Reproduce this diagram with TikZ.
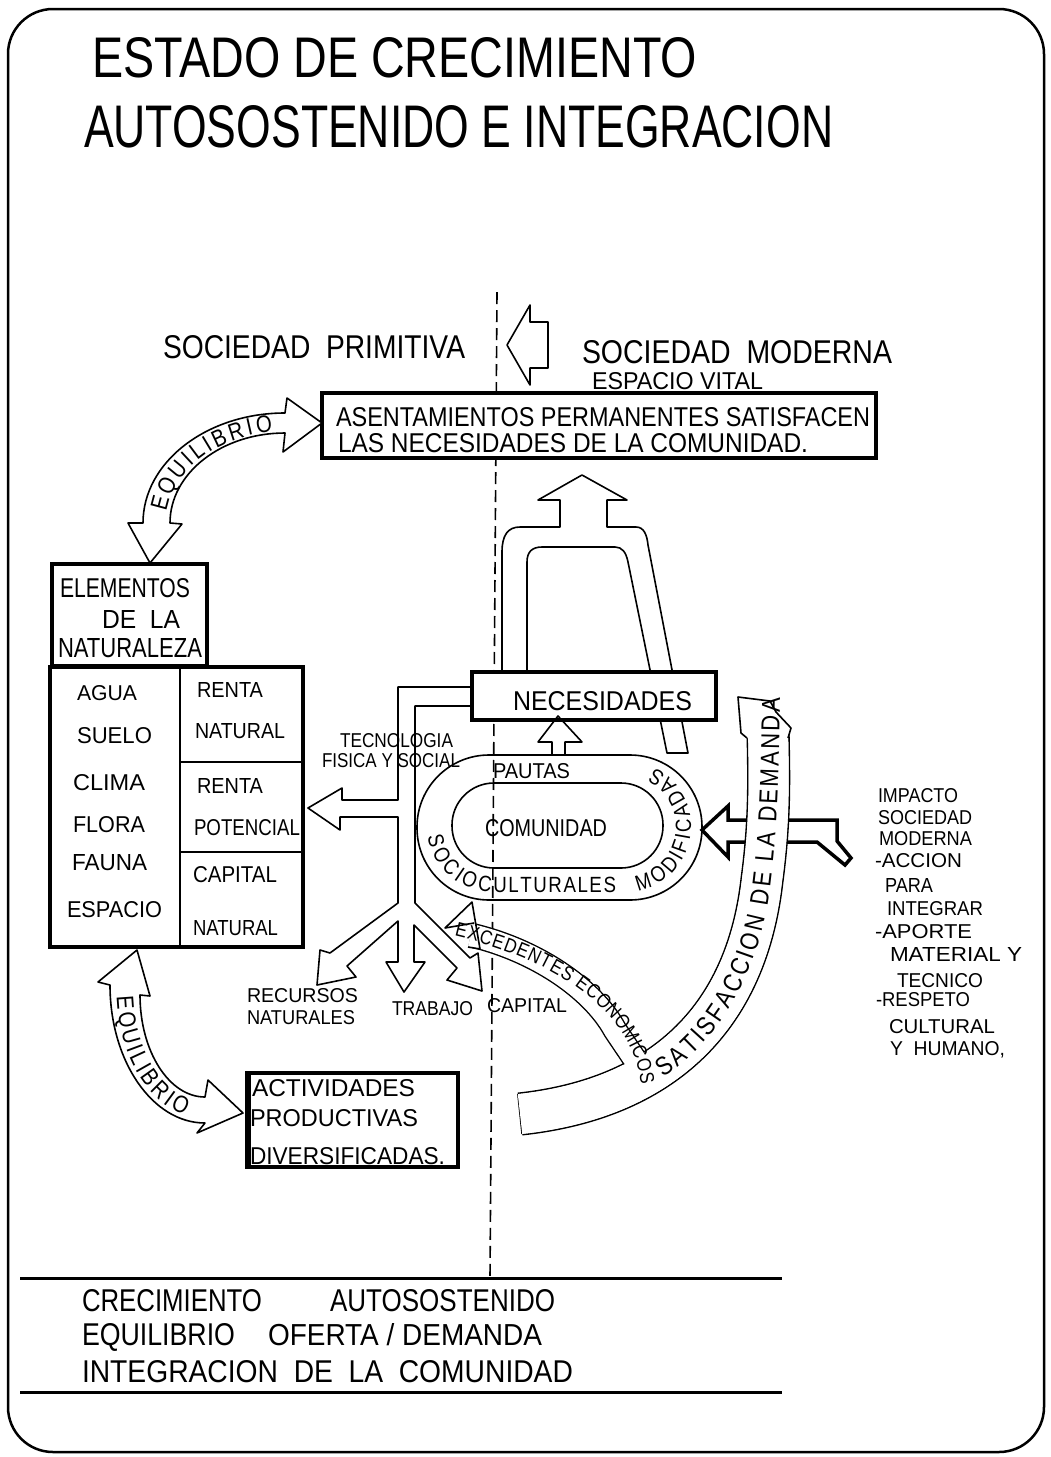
\documentclass[tikz,border=0pt]{standalone}
\usepackage{fontspec}
\usepackage{graphicx}
\newfontfamily\lett{Liberation Sans}
\newfontfamily\lettn{Liberation Sans}[FakeStretch=0.85]
\usetikzlibrary{decorations.text}
\newcommand\Lb[6]{\node[lbl] (#1) at (#2,#3) {\resizebox{#4pt}{#5pt}{\lett #6}};}
\newcommand\fA{\lettn\fontsize{24}{24}\selectfont}
\newcommand\fB{\lettn\fontsize{22}{22}\selectfont}
\newcommand\fC{\lettn\fontsize{26}{26}\selectfont}
\newcommand\fD{\lettn\fontsize{20}{20}\selectfont}
\tikzset{
  lbl/.style={anchor=base west, inner sep=0pt, outer sep=0pt},
  boxline/.style={line width=3.5pt, fill=white},
  thinline/.style={line width=1.6pt, line join=round},
  arrowline/.style={line width=1.6pt, fill=white, line join=round},
  curvtext/.style={decorate, decoration={text along path, text align=fit to path, raise=#1}},
}
\begin{document}
\begin{tikzpicture}[x=1pt,y=-1pt]
\useasboundingbox (0,0) rectangle (1051,1457);
% frame
\draw[line width=2.5pt, rounded corners=45pt] (8,9) rectangle (1044,1452);
% dashed divider
\draw[line width=1.6pt, dash pattern=on 12pt off 6pt] (497,292) -- (490,1278);
% arch arrow from NECESIDADES to ASENTAMIENTOS
\draw[arrowline] (502,674) -- (502,552) .. controls (502,535) and (508,527) .. (520,527) -- (560,527) -- (560,500) -- (538,500) -- (582,475) -- (627,500) -- (607,500) -- (607,527) -- (636,527) .. controls (644,527) and (647,535) .. (648,545) -- (688,753) -- (667,753) -- (628,562) .. controls (626,552) and (622,547) .. (615,547) -- (542,547) .. controls (532,547) and (527,552) .. (527,562) -- (527,674);
% left-pointing arrow between societies
\draw[thinline] (507,345) -- (530,305) -- (530,322) -- (548,322) -- (548,368) -- (530,368) -- (530,385) -- cycle;
% boxes
\draw[boxline] (322,393) rectangle (876,458);
\draw[boxline] (472,672) rectangle (716,720);
\draw[boxline] (52,564) rectangle (207,666);
\draw[boxline] (50,667) rectangle (303,947);
\draw[line width=2pt] (180,667) -- (180,947);
\draw[line width=2pt] (180,762) -- (303,762);
\draw[line width=2pt] (180,852) -- (303,852);
\draw[boxline] (247,1073) rectangle (458,1167);
\draw[line width=6pt] (248,1071) -- (248,1169);
% oval
\draw[thinline, rounded corners=72pt] (417,755) rectangle (702,900);
\draw[thinline, rounded corners=42pt] (452,783) rectangle (663,868);
% pautas arrow
\draw[thinline] (552,755) -- (552,742) -- (538,742) -- (558,716) -- (582,742) -- (565,742) -- (565,755);
% tree
\draw[thinline] (472,687) -- (398,687) -- (398,800) -- (342,800) -- (342,788) -- (308,808) -- (340,830) -- (340,817) -- (398,817) -- (398,903) -- (330,953) -- (320,950) -- (317,985) -- (356,977) -- (347,966) -- (398,921) -- (398,962) -- (386,962) -- (404,992) -- (425,962) -- (414,962) -- (414,925) -- (457,968) -- (447,980) -- (482,991) -- (478,953) -- (470,958) -- (415,903) -- (415,706) -- (472,706);
% impact arrow
\draw[line width=3.5pt, fill=white, line join=miter] (702,830) -- (728,806) -- (728,820) -- (837,820) -- (837,841) -- (851,858) -- (845,865) -- (817,842) -- (728,842) -- (728,857) -- cycle;
% satisfaccion band
\draw[line width=1.6pt, double=white, double distance=40pt] (520,1114) .. controls (650,1100) and (745,1030) .. (762,880) .. controls (770,820) and (769,780) .. (768,730);
\draw[line width=1.6pt] (517.9,1094) -- (522.1,1134);
% excedentes band
\draw[line width=1.4pt, double=white, double distance=22pt] (471,935) .. controls (535,950) and (592,988) .. (615,1030) -- (642,1070);
\draw[white, line width=40pt] (520,1114) .. controls (650,1100) and (745,1030) .. (762,880) .. controls (770,820) and (769,780) .. (768,730);
\draw[arrowline] (474,923) -- (445,928) -- (472,902) -- (480,949) -- (468,947);
\draw[arrowline] (747,738) -- (741,733) -- (738,697) -- (770,701) -- (776,712) -- (791,728) -- (788,738);
% equilibrio arrows
\draw[arrowline] (322,423) -- (287,398) -- (285,413) arc[start angle=270, end angle=180, x radius=142, y radius=110] -- (128,523) -- (150,563) -- (182,524) -- (170,523) arc[start angle=180, end angle=270, x radius=115, y radius=90] -- (283,452) -- cycle;
\draw[arrowline] (137,950) -- (150,996) -- (140,995) arc[start angle=180, end angle=90, x radius=65, y radius=102] -- (208,1080) -- (243,1113) -- (197,1133) -- (205,1123) arc[start angle=90, end angle=180, x radius=95, y radius=138] -- (98,982) -- cycle;
% bottom rules
\draw[line width=3pt] (20,1278) -- (782,1278);
\draw[line width=3pt] (20,1392) -- (782,1392);
% curved texts
\path[curvtext=-8.5pt, decoration={text={|\fA|EQUILIBRIO}}] (285,523) ++(188:128 and 100) arc[start angle=188, end angle=264, x radius=128, y radius=100];
\path[curvtext=-8.5pt, decoration={text={|\fA|EQUILIBRIO}}] (205,990) ++(177:80 and 120) arc[start angle=177, end angle=102, x radius=80, y radius=120];
\path[curvtext=-8pt, decoration={text={|\fB|SOCIOCULTURALES}}] (492.5,826.5) ++(172:57.5) arc[start angle=172, end angle=90, radius=57.5] -- (616,884);
\path[curvtext=-8pt, decoration={text={|\fB|MODIFICADAS}}] (625.5,826.5) ++(80:57.5) arc[start angle=80, end angle=-64, radius=57.5];
\path[curvtext=-9pt, decoration={text={|\fC|SATISFACCION DE LA DEMANDA}}] (658,1070) .. controls (718,1030) and (752,965) .. (762,880) .. controls (769,820) and (770,760) .. (771,698);
\path[curvtext=-7pt, decoration={text={|\fD|EXCEDENTES ECONOMICOS}}] (456,929) .. controls (565,955) and (640,1010) .. (648,1084);
% labels
\Lb{t1}{92}{77}{605}{40}{ESTADO DE CRECIMIENTO}
\Lb{t2}{84}{147}{749}{42}{AUTOSOSTENIDO E INTEGRACION}
\Lb{sp}{163}{358}{302}{23}{SOCIEDAD\ \ PRIMITIVA}
\Lb{sm}{582}{363}{310}{23}{SOCIEDAD\ \ MODERNA}
\Lb{ev}{592}{389}{171}{17}{ESPACIO VITAL}
\Lb{a1}{336}{426}{534}{19}{ASENTAMIENTOS PERMANENTES SATISFACEN}
\Lb{a2}{338}{452}{470}{19}{LAS NECESIDADES DE LA COMUNIDAD.}
\Lb{el1}{60}{597}{130}{19}{ELEMENTOS}
\Lb{el2}{102}{628}{78}{18}{DE\ \ LA}
\Lb{el3}{58}{657}{144}{19}{NATURALEZA}
\Lb{agua}{77}{700}{60}{15}{AGUA}
\Lb{suelo}{77}{743}{75}{16}{SUELO}
\Lb{clima}{73}{790}{72}{16}{CLIMA}
\Lb{flora}{73}{832}{72}{16}{FLORA}
\Lb{fauna}{72}{870}{75}{16}{FAUNA}
\Lb{espacio}{67}{917}{95}{16}{ESPACIO}
\Lb{rn1}{197}{697}{66}{15}{RENTA}
\Lb{nat1}{195}{738}{90}{15}{NATURAL}
\Lb{rn2}{197}{793}{66}{15}{RENTA}
\Lb{pot}{194}{835}{106}{16}{POTENCIAL}
\Lb{cap1}{193}{882}{84}{16}{CAPITAL}
\Lb{nat2}{193}{935}{85}{15}{NATURAL}
\Lb{nec}{513}{710}{179}{19}{NECESIDADES}
\Lb{tec1}{340}{747}{113}{14}{TECNOLOGIA}
\Lb{tec2}{322}{767}{138}{14}{FISICA Y SOCIAL}
\Lb{pau}{493}{778}{77}{15}{PAUTAS}
\Lb{com}{485}{836}{122}{17}{COMUNIDAD}
\Lb{rec1}{247}{1002}{111}{14}{RECURSOS}
\Lb{rec2}{247}{1024}{108}{14}{NATURALES}
\Lb{trab}{392}{1015}{81}{14}{TRABAJO}
\Lb{capi}{487}{1012}{80}{14}{CAPITAL}
\Lb{act1}{252}{1096}{163}{17}{ACTIVIDADES}
\Lb{act2}{250}{1126}{168}{17}{PRODUCTIVAS}
\Lb{act3}{250}{1164}{195}{17}{DIVERSIFICADAS.}
\Lb{im1}{878}{802}{80}{14}{IMPACTO}
\Lb{im2}{878}{824}{94}{14}{SOCIEDAD}
\Lb{im3}{879}{845}{93}{14}{MODERNA}
\Lb{im4}{875}{867}{87}{14}{-ACCION}
\Lb{im5}{885}{892}{48}{14}{PARA}
\Lb{im6}{887}{915}{96}{14}{INTEGRAR}
\Lb{im7}{875}{938}{97}{14}{-APORTE}
\Lb{im8}{890}{961}{132}{14}{MATERIAL Y}
\Lb{im9}{897}{987}{86}{14}{TECNICO}
\Lb{im10}{876}{1006}{94}{14}{-RESPETO}
\Lb{im11}{889}{1033}{106}{14}{CULTURAL}
\Lb{im12}{890}{1055}{115}{14}{Y\ \ HUMANO,}
\Lb{b1}{82}{1311}{180}{22}{CRECIMIENTO}
\Lb{b2}{330}{1311}{225}{22}{AUTOSOSTENIDO}
\Lb{b3}{82}{1345}{153}{22}{EQUILIBRIO}
\Lb{b4}{268}{1345}{274}{22}{OFERTA / DEMANDA}
\Lb{b5}{82}{1382}{491}{22}{INTEGRACION\ \ DE\ \ LA\ \ COMUNIDAD}
\end{tikzpicture}
\end{document}
